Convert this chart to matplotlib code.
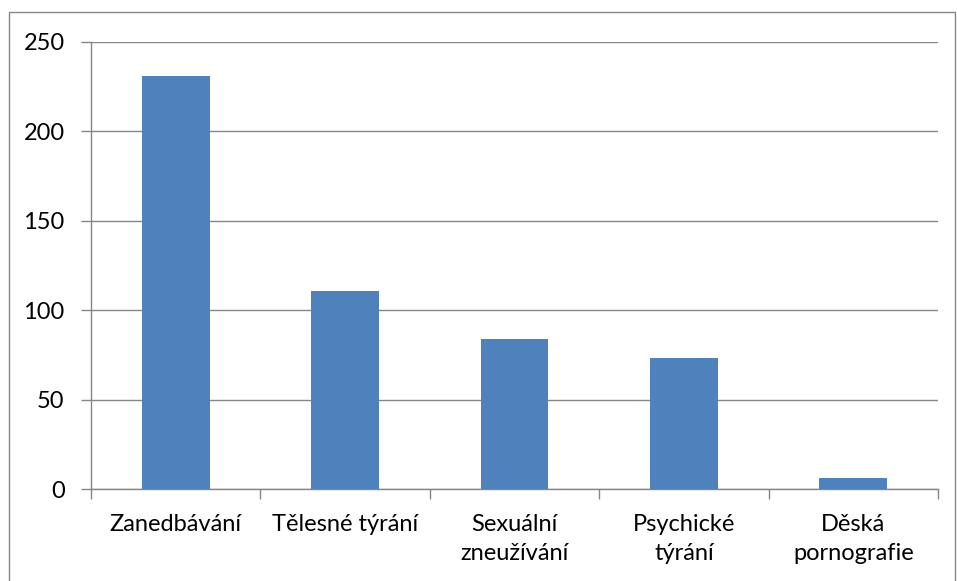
import matplotlib
matplotlib.use("Agg")
import matplotlib.pyplot as plt
from matplotlib.patches import Rectangle

categories = ["Zanedbávání", "Tělesné týrání", "Sexuální\nzneužívání", "Psychické\ntýrání", "Děská\npornografie"]
values = [231, 111, 84, 73, 6]
yticks = [0, 50, 100, 150, 200, 250]

W, H = 957, 581
fig = plt.figure(figsize=(W/100, H/100), dpi=100)
plt.rcParams['font.family'] = ['Lato', 'DejaVu Sans']

L, R, T, B = 91, 938, 42, 489
ax = fig.add_axes([L/W, 1-B/H, (R-L)/W, (B-T)/H])

grid_c = '#868686'
x = list(range(len(categories)))
ax.bar(x, values, width=0.4, color='#4F81BD', zorder=3)
ax.set_xlim(-0.5, len(categories)-0.5)
ax.set_ylim(0, 250)
ax.set_yticks(yticks)
ax.set_yticklabels([str(v) for v in yticks], fontsize=17)
ax.yaxis.grid(True, color=grid_c, linewidth=1, zorder=0)
ax.set_xticks([i - 0.5 for i in range(len(categories)+1)], minor=False)
ax.set_xticklabels([])
ax.set_xticks(x, minor=True)
ax.set_xticklabels(categories, minor=True, fontsize=17, linespacing=1.45, va='top')
ax.tick_params(axis='x', which='minor', length=0, pad=18)
ax.tick_params(axis='x', which='major', length=7, color=grid_c, width=1, direction='out')
ax.tick_params(axis='y', length=7, color=grid_c, width=1, direction='out', pad=12)
for s in ['top', 'right']:
    ax.spines[s].set_visible(False)
for s in ['left', 'bottom']:
    ax.spines[s].set_color(grid_c)
    ax.spines[s].set_linewidth(1)

fig.patches.append(Rectangle((9/W, -0.05), (955-9)/W, 1.05 - 12/H, transform=fig.transFigure,
                             fill=False, edgecolor=grid_c, linewidth=1))

fig.savefig("out.png", dpi=100)
